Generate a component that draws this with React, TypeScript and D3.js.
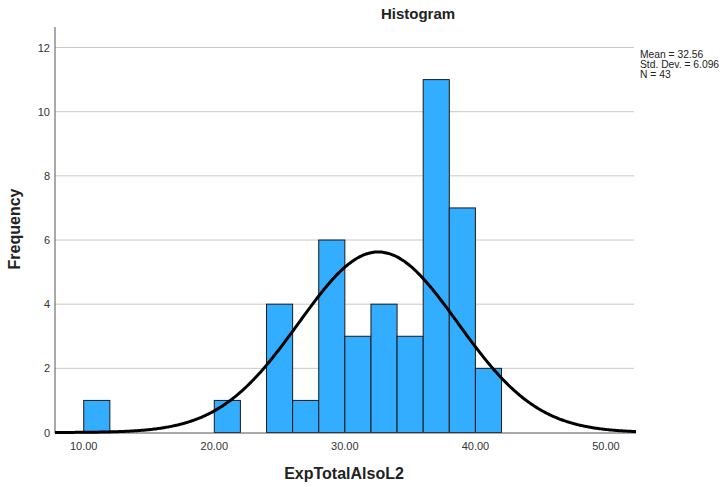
import React from "react";
import * as d3 from "d3";

const binStarts = [10, 20, 24, 26, 28, 30, 32, 34, 36, 38, 40];
const binCounts = [1, 1, 4, 1, 6, 3, 4, 3, 11, 7, 2];
const binWidth = 2;
const yTicks = [0, 2, 4, 6, 8, 10, 12];
const xTicks = [10, 20, 30, 40, 50];
const mean = 32.56;
const sd = 6.096;
const n = 43;
const legendLines = ["Mean = 32.56", "Std. Dev. = 6.096", "N = 43"];

export default function App() {
  const W = 724, H = 487;
  const x = d3.scaleLinear().domain([7.8, 52.3]).range([55, 636]);
  const y = d3.scaleLinear().domain([0, 12.64]).range([432.5, 27]);
  const font = "'Liberation Sans', Arial, sans-serif";

  const curvePts = d3.range(7.8, 52.3001, 0.1).map((v) => {
    const z = (v - mean) / sd;
    const dens = (n * binWidth) / (sd * Math.sqrt(2 * Math.PI)) * Math.exp(-0.5 * z * z);
    return [v, dens] as [number, number];
  });
  const line = d3.line<[number, number]>().x((d) => x(d[0])).y((d) => y(d[1])).curve(d3.curveBasis);

  return (
    <svg width={W} height={H} style={{ position: "absolute", left: 0, top: 0, background: "#fff" }}>
      <text x={418} y={19} textAnchor="middle" fontFamily={font} fontWeight="bold" fontSize={15} fill="#222">Histogram</text>
      {yTicks.map((t) => (
        <g key={t}>
          {t > 0 && <line x1={55} x2={634} y1={y(t)} y2={y(t)} stroke="#c8c8c8" strokeWidth={1} />}
          <text x={50} y={y(t) + 4} textAnchor="end" fontFamily={font} fontSize={11} fill="#333">{t}</text>
        </g>
      ))}
      {binStarts.map((s, i) => (
        <rect key={s} x={x(s)} y={y(binCounts[i])} width={x(s + binWidth) - x(s)} height={y(0) - y(binCounts[i])}
          fill="#33adff" stroke="#1a1a1a" strokeWidth={1} />
      ))}
      <line x1={55} x2={55} y1={27} y2={433} stroke="#555" strokeWidth={1} />
      <line x1={55} x2={636} y1={433} y2={433} stroke="#555" strokeWidth={1} />
      <path d={line(curvePts) || ""} fill="none" stroke="#000" strokeWidth={3} />
      {xTicks.map((t) => (
        <text key={t} x={x(t)} y={450} textAnchor="middle" fontFamily={font} fontSize={11} fill="#333">{t.toFixed(2)}</text>
      ))}
      <text x={344} y={479} textAnchor="middle" fontFamily={font} fontWeight="bold" fontSize={16} fill="#222">ExpTotalAlsoL2</text>
      <text transform={`translate(20,229) rotate(-90)`} textAnchor="middle" fontFamily={font} fontWeight="bold" fontSize={16} fill="#222">Frequency</text>
      {legendLines.map((l, i) => (
        <text key={l} x={640} y={57.5 + i * 10} fontFamily={font} fontSize={10.3} fill="#222">{l}</text>
      ))}
    </svg>
  );
}
